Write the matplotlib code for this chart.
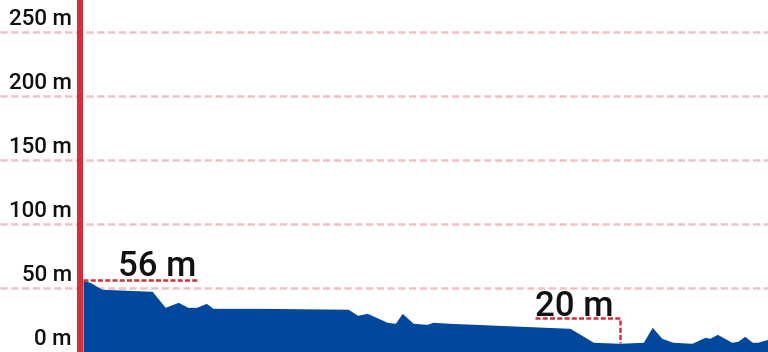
import numpy as np
import matplotlib
matplotlib.use("Agg")
import matplotlib.pyplot as plt
from matplotlib.lines import Line2D
from matplotlib.transforms import blended_transform_factory

plt.rcParams['font.family'] = ['Roboto', 'DejaVu Sans']

# elevation profile (distance in km, height in m)
dist = [0.00, 0.10, 0.25, 0.29, 1.01, 1.20, 1.39, 1.53, 1.66, 1.80, 1.90, 2.58,
        3.87, 4.01, 4.15, 4.44, 4.56, 4.66, 4.82, 5.02, 5.11, 5.36, 7.11, 7.45,
        7.84, 8.18, 8.31, 8.45, 8.61, 8.89, 9.08, 9.15, 9.26, 9.47, 9.56, 9.66,
        9.77, 9.85, 10.0]
elev = [56.0, 54.5, 49.8, 49.0, 47.4, 34.9, 38.8, 34.9, 34.9, 38.0, 34.1, 34.1,
        33.4, 28.7, 30.2, 23.2, 22.4, 30.2, 22.4, 21.6, 23.2, 22.4, 18.5, 7.6,
        6.8, 7.6, 19.3, 10.7, 7.6, 6.8, 11.5, 10.7, 13.8, 7.6, 8.4, 12.3,
        7.6, 7.6, 9.9]

grid_vals = [0, 50, 100, 150, 200, 250]
grid_labels = ["0 m", "50 m", "100 m", "150 m", "200 m", "250 m"]

max_label = "56 m"
min_label = "20 m"

blue = "#00479e"
red = "#d22f3d"
pink = "#f4c0c4"

fig = plt.figure(figsize=(7.68, 3.52), dpi=100)
ax = fig.add_axes([83 / 768, 0, 1 - 83 / 768, 1])
ax.set_xlim(0, 10)
ax.set_ylim(0, 275)
ax.axis("off")

# dashed gridlines run across the whole width, under the labels too
xmin = -83 / 685
for v in grid_vals[1:]:
    ax.axhline(v, xmin=xmin, xmax=1, color=pink, lw=1.8, dashes=(2.9, 1.4),
               clip_on=False, zorder=0)

ax.fill_between(dist, elev, 0, color=blue, lw=0, zorder=2)

# y labels
tr = blended_transform_factory(fig.transFigure, ax.transData)
for v, lab in zip(grid_vals, grid_labels):
    ax.text(72 / 768, v + 5.5, lab, transform=tr, ha="right", va="baseline",
            fontsize=16, fontweight="medium", color="#111111")

# red axis line
fig.add_artist(Line2D([80 / 768, 80 / 768], [0, 1], transform=fig.transFigure,
                      color=red, lw=4.4, zorder=5))

# max marker
ax.plot([0, 1.66], [56, 56], color=red, lw=1.8, dashes=(2.0, 0.9), zorder=3)
ax.text(1.66, 59, max_label, ha="right", va="baseline", fontsize=25,
        fontweight="medium", color="#111111")

# min marker
ax.plot([6.60, 7.84, 7.84], [26.3, 26.3, 7.0], color=red, lw=1.8,
        dashes=(2.0, 0.9), zorder=3)
ax.text(6.60, 28.5, min_label, ha="left", va="baseline", fontsize=25,
        fontweight="medium", color="#111111")

fig.savefig("out.png", dpi=100)
